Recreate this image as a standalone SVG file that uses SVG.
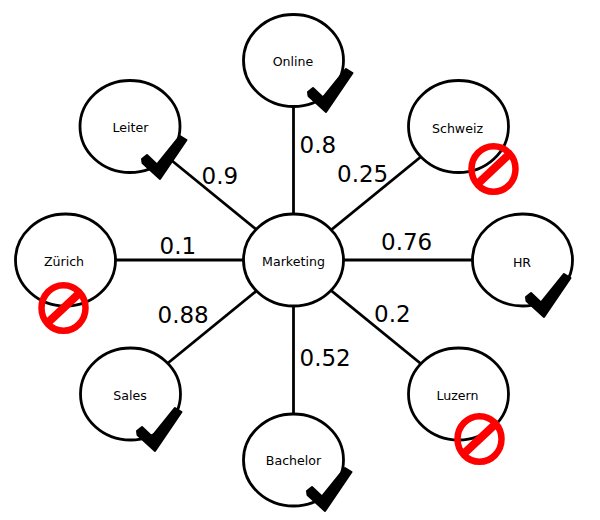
<svg xmlns="http://www.w3.org/2000/svg" width="600" height="520" viewBox="0 0 600 520">
<style>
text{font-family:"DejaVu Sans",Verdana,sans-serif;fill:#000}
.n{font-size:12.6px;text-anchor:middle}
.w{font-size:23px}
.c{fill:#fff;stroke:#000;stroke-width:2.800}
.l{stroke:#000;stroke-width:2.800;fill:none}
.k{fill:#000;stroke:#000;stroke-width:2;stroke-linejoin:round}
.r{fill:none;stroke:#f00;stroke-width:6.500}
.b{stroke:#f00;stroke-width:8}
</style>
<defs>
<path id="chk" class="k" d="M-18 -15 L-13 -19 L-3 -9.500 L20 -38 L26.500 -34 L0 5 L-17.500 -11 Z"/>
<g id="no"><ellipse class="r" rx="22" ry="22.800"/><line class="b" x1="-16" y1="15" x2="16" y2="-15"/></g>
</defs>
<rect width="600" height="520" fill="#fff"/>
<g id="connectors">
<line class="l" x1="293.500" y1="260" x2="293.500" y2="60"/>
<line class="l" x1="293.500" y1="260" x2="293.500" y2="460"/>
<line class="l" x1="65" y1="260" x2="522" y2="260"/>
<line class="l" x1="130" y1="126.500" x2="458" y2="394"/>
<line class="l" x1="458" y1="126.500" x2="130" y2="394"/>
</g>
<g id="marketing"><ellipse class="c" cx="293.500" cy="260" rx="50" ry="46"/><text class="n" x="293.500" y="266">Marketing</text></g>
<g id="online"><ellipse class="c" cx="293.500" cy="60.500" rx="50" ry="46"/><text class="n" x="293" y="66">Online</text><use href="#chk" x="326" y="107"/></g>
<g id="schweiz"><ellipse class="c" cx="458.500" cy="126.500" rx="50" ry="46"/><text class="n" x="457.500" y="133">Schweiz</text><use href="#no" x="493.500" y="169"/></g>
<g id="hr"><ellipse class="c" cx="522.500" cy="260" rx="50" ry="46"/><text class="n" x="522" y="267">HR</text><use href="#chk" x="544" y="312"/></g>
<g id="luzern"><ellipse class="c" cx="458.500" cy="394" rx="50" ry="46"/><text class="n" x="457.500" y="400">Luzern</text><use href="#no" x="479.500" y="439"/></g>
<g id="bachelor"><ellipse class="c" cx="293.500" cy="460" rx="50" ry="46"/><text class="n" x="293.500" y="465">Bachelor</text><use href="#chk" x="325" y="506"/></g>
<g id="sales"><ellipse class="c" cx="130.500" cy="394" rx="50" ry="46"/><text class="n" x="130" y="400">Sales</text><use href="#chk" x="155" y="446"/></g>
<g id="zurich"><ellipse class="c" cx="65.500" cy="260" rx="50" ry="46"/><text class="n" x="64" y="266">Zürich</text><use href="#no" x="63.500" y="308"/></g>
<g id="leiter"><ellipse class="c" cx="130" cy="126.500" rx="50" ry="46"/><text class="n" x="130.500" y="132">Leiter</text><use href="#chk" x="160" y="174"/></g>
<g id="weights">
<text class="w" x="299.500" y="152.500">0.8</text>
<text class="w" x="337" y="182">0.25</text>
<text class="w" x="381" y="250">0.76</text>
<text class="w" x="374" y="322">0.2</text>
<text class="w" x="299.500" y="366">0.52</text>
<text class="w" x="157.500" y="323">0.88</text>
<text class="w" x="159.500" y="254">0.1</text>
<text class="w" x="201.500" y="184">0.9</text>
</g>
</svg>
